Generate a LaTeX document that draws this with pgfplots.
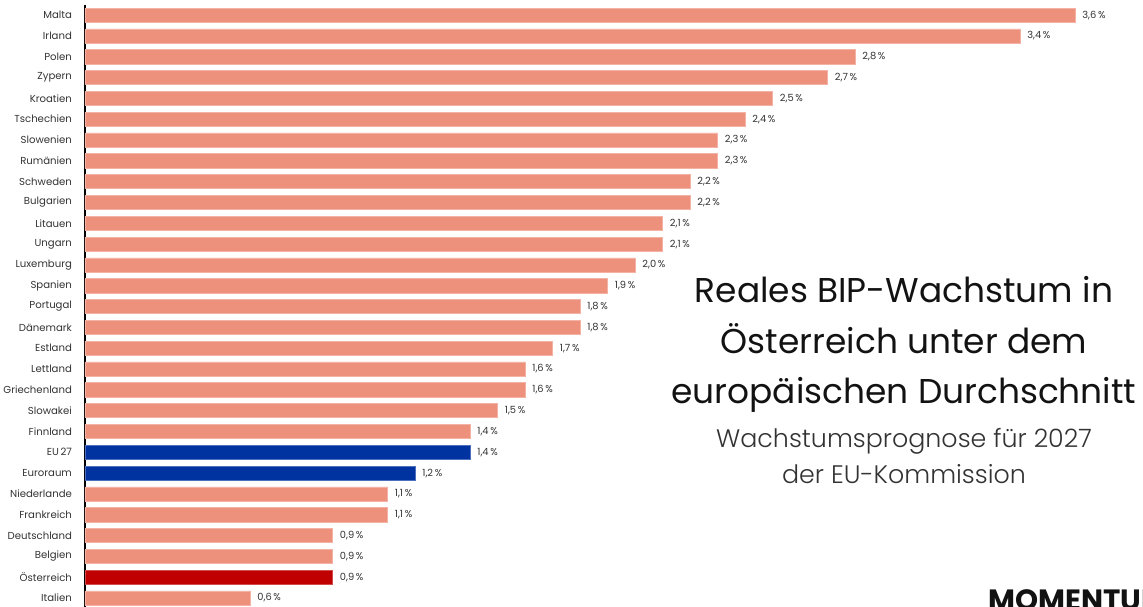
\documentclass[border=0pt]{standalone}
\usepackage{pgfplots}
\pgfplotsset{compat=1.18}
\usepackage{fontspec}
\setmainfont{Poppins}
\newfontfamily\poplight{Poppins Light}
\definecolor{salmon}{HTML}{EE917C}
\definecolor{eublue}{HTML}{0033A0}
\definecolor{atred}{HTML}{C00000}
\definecolor{lbl}{HTML}{333333}
\begin{document}
\begin{tikzpicture}
\path[use as bounding box] (0,0) rectangle (857.25pt,-455.25pt);
\begin{axis}[
    at={(63.75pt,-456.3pt)}, anchor=south west,
    scale only axis,
    width=783.75pt, height=452.8pt,
    xbar, bar shift=0pt, bar width=0.68,
    xmin=0, xmax=3.8,
    ymin=-0.5, ymax=28.5,
    y dir=reverse,
    hide x axis,
    axis y line*=left,
    y axis line style={line width=1.2pt, black, -},
    ytick={0,...,28},
    yticklabels={Malta,Irland,Polen,Zypern,Kroatien,Tschechien,Slowenien,Rumänien,Schweden,Bulgarien,Litauen,Ungarn,Luxemburg,Spanien,Portugal,Dänemark,Estland,Lettland,Griechenland,Slowakei,Finnland,EU\,27,Euroraum,Niederlande,Frankreich,Deutschland,Belgien,Österreich,Italien},
    ytick style={draw=none},
    yticklabel style={font=\fontsize{7.6}{9}\selectfont, text=lbl, xshift=-2pt},
    nodes near coords={\pgfmathprintnumber[fixed,fixed zerofill,precision=1,use comma,assume math mode=true]{\pgfplotspointmeta}\,\%},
    nodes near coords style={font=\fontsize{7.4}{9}\selectfont, text=lbl, xshift=2pt},
    point meta=x,
    clip=false,
]
\addplot[fill=salmon, draw=salmon!70!white, line width=0.4pt] coordinates {
(3.6,0) (3.4,1) (2.8,2) (2.7,3) (2.5,4) (2.4,5) (2.3,6) (2.3,7) (2.2,8) (2.2,9)
(2.1,10) (2.1,11) (2.0,12) (1.9,13) (1.8,14) (1.8,15) (1.7,16) (1.6,17) (1.6,18)
(1.5,19) (1.4,20) (1.1,23) (1.1,24) (0.9,25) (0.9,26) (0.6,28)};
\addplot[fill=eublue, draw=eublue!70!white, line width=0.4pt] coordinates {(1.4,21) (1.2,22)};
\addplot[fill=atred, draw=atred!70!white, line width=0.4pt] coordinates {(0.9,27)};
\end{axis}
\begin{scope}[every node/.style={anchor=base, inner sep=0pt, text=black!93}]
\node[font=\fontsize{25.8}{30}\selectfont] at (678pt,-226.5pt) {Reales BIP-Wachstum in};
\node[font=\fontsize{25.8}{30}\selectfont] at (678pt,-264.75pt) {Österreich unter dem};
\node[font=\fontsize{25.8}{30}\selectfont] at (678pt,-302.25pt) {europäischen Durchschnitt};
\node[font=\poplight\fontsize{19}{22}\selectfont, text=lbl] at (678pt,-335.25pt) {Wachstumsprognose für 2027};
\node[font=\poplight\fontsize{19}{22}\selectfont, text=lbl] at (678pt,-362.25pt) {der EU-Kommission};
\node[anchor=base west, font=\bfseries\fontsize{22}{26}\selectfont] at (741pt,-458pt) {MOMENTUM};
\end{scope}
\end{tikzpicture}
\end{document}
